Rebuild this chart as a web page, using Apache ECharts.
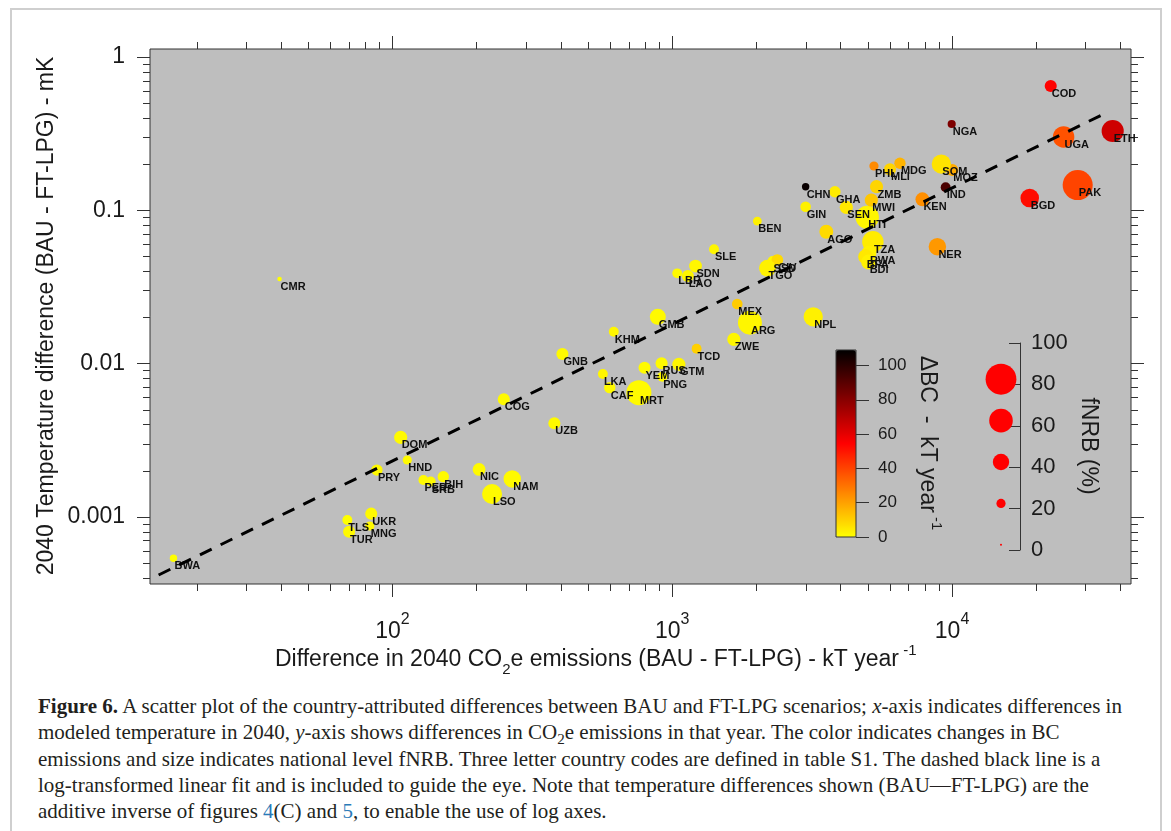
<!DOCTYPE html>
<html>
<head>
<meta charset="utf-8">
<title>Figure 6</title>
<script src="https://cdn.jsdelivr.net/npm/echarts@6/dist/echarts.min.js"></script>
<style>
  html, body { margin: 0; padding: 0; background: #fff; }
  #wrap { position: relative; width: 1171px; height: 831px; overflow: hidden; }
  #frame { position: absolute; left: 10px; top: 8px; width: 1152px; height: 900px; border: 2px solid #cfcfcf; box-sizing: border-box; }
  #chart { position: absolute; left: 0; top: 0; width: 1171px; height: 690px; }
  #caption { position: absolute; left: 38px; top: 693px; font-family: 'Liberation Serif', 'DejaVu Serif', serif; font-size: 21px; line-height: 26.3px; color: #231f20; white-space: nowrap; }
  #caption a { color: #2a7ab8; text-decoration: none; }
  #caption sub { font-size: 0.72em; line-height: 0; vertical-align: -0.3em; }
</style>
</head>
<body>
<div id="wrap">
  <div id="frame"></div>
  <div id="chart"></div>
  <div id="caption"><b>Figure 6.</b> A scatter plot of the country-attributed differences between BAU and FT-LPG scenarios; <i>x</i>-axis indicates differences in<br>modeled temperature in 2040, <i>y</i>-axis shows differences in CO<sub>2</sub>e emissions in that year. The color indicates changes in BC<br>emissions and size indicates national level fNRB. Three letter country codes are defined in table S1. The dashed black line is a<br>log-transformed linear fit and is included to guide the eye. Note that temperature differences shown (BAU—FT-LPG) are the<br>additive inverse of figures <a>4</a>(C) and <a>5</a>, to enable the use of log axes.</div>
</div>
<script>
// country codes (labels)
var countryCodes = ['BWA', 'CMR', 'DOM', 'HND', 'PRY', 'PER', 'SRB', 'BIH', 'UKR', 'TLS', 'MNG', 'TUR',
  'NIC', 'NAM', 'LSO', 'UZB', 'COG', 'GNB', 'KHM', 'GMB', 'LKA', 'CAF', 'MRT', 'YEM', 'RUS', 'PNG', 'GTM',
  'TCD', 'ZWE', 'MEX', 'ARG', 'NPL', 'SLE', 'SDN', 'LBR', 'LAO', 'SSD', 'CIV', 'TGO', 'BEN', 'GIN', 'CHN',
  'GHA', 'SEN', 'AGO', 'HTI', 'ZMB', 'MWI', 'PHL', 'MLI', 'MDG', 'TZA', 'RWA', 'BFA', 'BDI', 'KEN', 'NER',
  'MOZ', 'SOM', 'IND', 'NGA', 'COD', 'UGA', 'ETH', 'PAK', 'BGD'];
// difference in 2040 CO2e emissions, kT/yr
var co2eDiff = [16.5, 39.5, 107, 113, 88, 129, 137, 152, 84, 69, 83, 70,
  204, 268, 227, 379, 250, 405, 618, 888, 565, 598, 760, 796, 916, 921, 1056,
  1222, 1660, 1707, 1895, 3190, 1410, 1211, 1042, 1137, 2284, 2374, 2189, 2014, 2997, 2997,
  3814, 4188, 3553, 4977, 5370, 5147, 5258, 5999, 6513, 5212, 5045, 4911, 5033, 7834, 8862,
  10020, 9155, 9486, 9970, 22520, 25040, 37500, 28120, 18950];
// 2040 temperature difference, mK
var tempDiff = [0.000537, 0.0356, 0.0033, 0.00235, 0.00202, 0.00174, 0.0017, 0.00183, 0.00105, 0.000955, 0.000872, 0.0008,
  0.00204, 0.00177, 0.00141, 0.00408, 0.00585, 0.01155, 0.01615, 0.0202, 0.00855, 0.00697, 0.00646, 0.0094, 0.01005, 0.0082, 0.00989,
  0.0125, 0.0144, 0.0245, 0.0185, 0.0202, 0.0557, 0.0433, 0.0388, 0.0373, 0.0467, 0.0474, 0.0419, 0.0851, 0.1055, 0.1426,
  0.1322, 0.1046, 0.0725, 0.090, 0.1426, 0.1167, 0.1945, 0.185, 0.2027, 0.0624, 0.0524, 0.0498, 0.046, 0.118, 0.0579,
  0.1832, 0.2004, 0.1413, 0.3656, 0.647, 0.301, 0.329, 0.1462, 0.1202];
// fNRB (%)
var fnrbPct = [15, 7, 31, 20, 26, 22, 22, 26, 28, 22, 20, 28,
  30, 43, 50, 28, 28, 28, 22, 39, 22, 26, 64, 28, 28, 22, 31,
  22, 31, 24, 61, 48, 22, 30, 22, 28, 22, 27, 41, 19, 24, 15,
  26, 31, 33, 59, 31, 31, 20, 28, 26, 54, 36, 36, 36, 33, 43,
  28, 48, 22, 17, 28, 54, 56, 78, 46];
// change in BC emissions, kT/yr
var bcDiff = [0, 0, 1, 1, 1, 1, 1, 1, 1, 0, 1, 1,
  1, 1, 1, 1, 1, 1, 2, 1, 2, 1, 1, 1, 1, 1, 2,
  10, 2, 11, 2, 3, 2, 2, 1, 2, 2, 8, 3, 3, 3, 107,
  4, 5, 8, 2, 9, 12, 25, 9, 16, 4, 3, 5, 3, 24, 22,
  18, 6, 93, 82, 54, 37, 65, 40, 52];

// dashed log-linear fit, end points
var fitCo2e = [14.6, 35400];
var fitTemp = [0.000418, 0.431];

// axis ticks
var xTickExp = [2, 3, 4];
var yTickExp = [-3, -2, -1, 0];
var yTickLabels = ['0.001', '0.01', '0.1', '1'];
var bcTicks = [0, 20, 40, 60, 80, 100];
var bcMax = 109;
var bcColors = ['#ffff00', '#ff0000', '#000000'];
var fnrbTicks = [0, 20, 40, 60, 80, 100];
var sizeLegendVals = [0, 20, 40, 60, 80];
var sizeLegendPos = [2.5, 22.5, 42.5, 62.5, 82.5];

var LOG = Math.log10;
var FONT = 'Liberation Sans, Arial, sans-serif';
var TXT = '#1a1a1a';
var xMin = LOG(13.6), xMax = LOG(43600);
var yMin = LOG(0.000365), yMax = LOG(1.128);

function minorTicks(lo, hi, min, max) {
  var out = [];
  for (var k = lo; k <= hi; k++) {
    for (var m = 2; m <= 9; m++) {
      var v = LOG(m) + k;
      if (v >= min && v <= max) out.push(v);
    }
  }
  return out;
}
var xMinor = minorTicks(1, 4, xMin, xMax);
var yMinor = minorTicks(-4, -1, yMin, yMax);

function symSize(f) { return 2 + 0.36 * f; }

var pointData = countryCodes.map(function (c, i) {
  return [LOG(co2eDiff[i]), LOG(tempDiff[i]), fnrbPct[i], bcDiff[i], c];
});
var fitData = fitCo2e.map(function (x, i) { return [LOG(x), LOG(fitTemp[i])]; });
var legendData = sizeLegendVals.map(function (f, i) { return [0.5, sizeLegendPos[i], f]; });

var tickLine = { color: '#333', width: 1 };

function mainAxis(pos, min, max, ticks, len, label) {
  return {
    type: 'value', gridIndex: 0, position: pos, min: min, max: max,
    axisLine: { show: false, onZero: false },
    splitLine: { show: false },
    axisTick: { show: true, customValues: ticks, length: len, lineStyle: tickLine },
    axisLabel: label || { show: false }
  };
}

var xLabel = {
  show: true, customValues: xTickExp, margin: 28,
  formatter: function (v) { return '{b|10}{s|' + Math.round(v) + '}'; },
  rich: {
    b: { fontSize: 23, lineHeight: 40, fontFamily: FONT, color: TXT },
    s: { fontSize: 16, lineHeight: 16, verticalAlign: 'top', fontFamily: FONT, color: TXT }
  }
};
var yLabel = {
  show: true, customValues: yTickExp, margin: 25, fontSize: 23, fontFamily: FONT, color: TXT,
  formatter: function (v) { return yTickLabels[yTickExp.indexOf(Math.round(v))]; }
};

var chart = echarts.init(document.getElementById('chart'));
chart.setOption({
  animation: false,
  grid: [
    { left: 150, top: 49, width: 981, height: 535, show: true, backgroundColor: '#bebebe', borderColor: '#333', borderWidth: 1, outerBoundsMode: 'none' },
    { left: 836, top: 350, width: 20, height: 187, show: true, backgroundColor: 'transparent', borderColor: '#333', borderWidth: 1, z: 10, outerBoundsMode: 'none' },
    { left: 982, top: 343, width: 38, height: 207, show: false, outerBoundsMode: 'none' }
  ],
  xAxis: [
    mainAxis('bottom', xMin, xMax, xTickExp, 13, xLabel),
    mainAxis('bottom', xMin, xMax, xMinor, 7),
    mainAxis('top', xMin, xMax, xTickExp, 13),
    mainAxis('top', xMin, xMax, xMinor, 7),
    { type: 'value', gridIndex: 1, min: 0, max: 1, show: false },
    { type: 'value', gridIndex: 2, min: 0, max: 1, show: false }
  ],
  yAxis: [
    mainAxis('left', yMin, yMax, yTickExp, 13, yLabel),
    mainAxis('left', yMin, yMax, yMinor, 7),
    mainAxis('right', yMin, yMax, yTickExp, 13),
    mainAxis('right', yMin, yMax, yMinor, 7),
    {
      type: 'value', gridIndex: 1, position: 'right', min: 0, max: bcMax,
      axisLine: { show: false, onZero: false }, splitLine: { show: false },
      axisTick: { show: true, customValues: bcTicks, length: 13, lineStyle: tickLine },
      axisLabel: { show: true, customValues: bcTicks, margin: 22, fontSize: 17, fontFamily: FONT, color: TXT }
    },
    {
      type: 'value', gridIndex: 2, position: 'right', min: 0, max: 100,
      axisLine: { show: true, onZero: false, lineStyle: tickLine }, splitLine: { show: false },
      axisTick: { show: true, inside: true, customValues: fnrbTicks, length: 11, lineStyle: tickLine },
      axisLabel: { show: true, customValues: fnrbTicks, margin: 11, fontSize: 22, fontFamily: FONT, color: TXT }
    }
  ],
  visualMap: {
    type: 'continuous', seriesIndex: 0, dimension: 3, min: 0, max: bcMax,
    left: 836, top: 350, itemWidth: 20, itemHeight: 187, padding: 0,
    calculable: false, hoverLink: false, showLabel: false,
    inRange: { color: bcColors }
  },
  graphic: [
    { type: 'text', x: 47, y: 316, rotation: Math.PI / 2,
      style: { text: '2040 Temperature difference (BAU - FT-LPG) - mK', fontSize: 23, fontFamily: FONT, fill: TXT, align: 'center', verticalAlign: 'middle' } },
    { type: 'text', x: 275, y: 660,
      style: {
        text: '{a|Difference in 2040 CO}{b|2}{a|e emissions (BAU - FT-LPG) - kT year}{c| -1}',
        align: 'left', verticalAlign: 'middle',
        rich: {
          a: { fontSize: 23, lineHeight: 34, fontFamily: FONT, fill: TXT },
          b: { fontSize: 15, lineHeight: 15, verticalAlign: 'bottom', fontFamily: FONT, fill: TXT },
          c: { fontSize: 15, lineHeight: 15, verticalAlign: 'top', fontFamily: FONT, fill: TXT }
        }
      } },
    { type: 'text', x: 927, y: 443, rotation: -Math.PI / 2, z: 20,
      style: {
        text: '{a|\u0394BC  -  kT year}{c| -1}', align: 'center', verticalAlign: 'middle',
        rich: {
          a: { fontSize: 23, lineHeight: 34, fontFamily: FONT, fill: TXT },
          c: { fontSize: 15, lineHeight: 15, verticalAlign: 'top', fontFamily: FONT, fill: TXT }
        }
      } },
    { type: 'text', x: 1088, y: 446, rotation: -Math.PI / 2, z: 20,
      style: { text: 'fNRB (%)', fontSize: 23, fontFamily: FONT, fill: TXT, align: 'center', verticalAlign: 'middle' } }
  ],
  series: [
    {
      type: 'scatter', xAxisIndex: 0, yAxisIndex: 0, data: pointData, z: 2, silent: true,
      symbolSize: function (v) { return symSize(v[2]); },
      itemStyle: { opacity: 1 },
      label: {
        show: true, position: 'inside', align: 'left', verticalAlign: 'middle', offset: [1, 8],
        formatter: function (p) { return p.data[4]; },
        fontSize: 11, fontWeight: 'bold', fontFamily: FONT, color: '#111', textBorderWidth: 0
      },
      emphasis: { disabled: true }
    },
    {
      type: 'line', xAxisIndex: 0, yAxisIndex: 0, data: fitData, z: 3, silent: true,
      showSymbol: false, lineStyle: { type: [13, 10], width: 3, color: '#000', cap: 'butt' }
    },
    {
      type: 'scatter', xAxisIndex: 5, yAxisIndex: 5, data: legendData, silent: true,
      symbolSize: function (v) { return symSize(v[2]); },
      itemStyle: { color: '#ff0000', opacity: 1 }
    }
  ]
});
</script>
</body>
</html>
